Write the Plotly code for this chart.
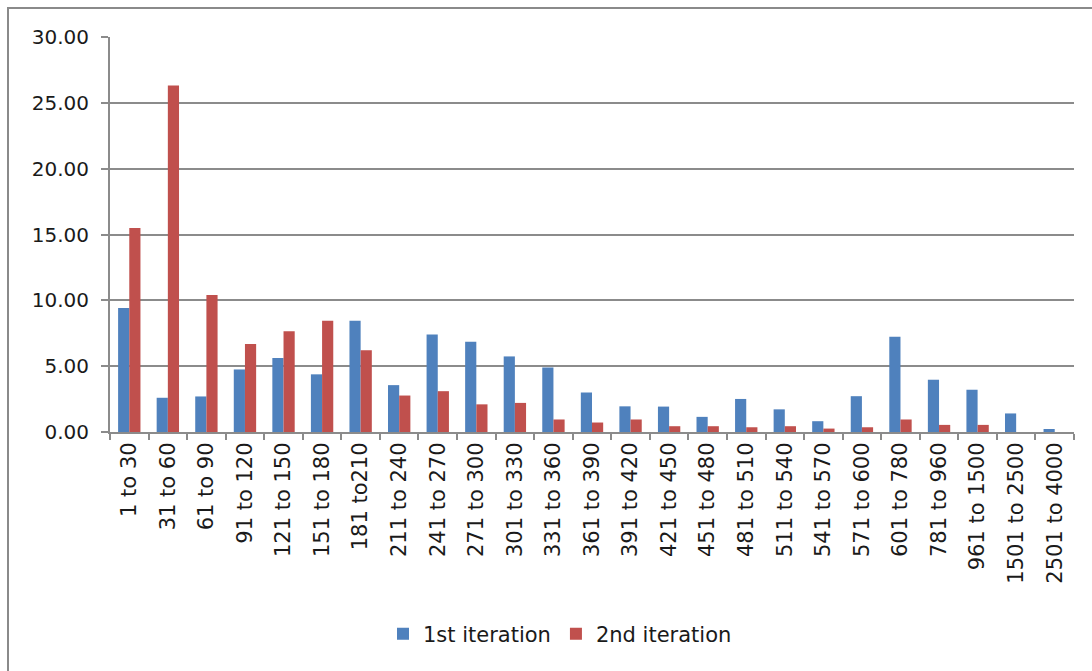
import plotly.graph_objects as go

# Interval bins (seconds) and the share of cases falling in each bin
categories = [
    "1 to 30", "31 to 60", "61 to 90", "91 to 120", "121 to 150", "151 to 180",
    "181 to210", "211 to 240", "241 to 270", "271 to 300", "301 to 330",
    "331 to 360", "361 to 390", "391 to 420", "421 to 450", "451 to 480",
    "481 to 510", "511 to 540", "541 to 570", "571 to 600", "601 to 780",
    "781 to 960", "961 to 1500", "1501 to 2500", "2501 to 4000",
]

first_iteration = [
    9.41, 2.60, 2.70, 4.75, 5.62, 4.38, 8.44, 3.56, 7.40, 6.85, 5.74,
    4.90, 3.00, 1.95, 1.93, 1.15, 2.51, 1.72, 0.82, 2.72, 7.23, 3.97,
    3.21, 1.41, 0.23,
]

second_iteration = [
    15.49, 26.32, 10.40, 6.69, 7.66, 8.44, 6.21, 2.77, 3.10, 2.10, 2.21,
    0.95, 0.72, 0.95, 0.44, 0.44, 0.36, 0.44, 0.26, 0.36, 0.95, 0.54,
    0.54, 0.0, 0.0,
]

series_names = ["1st iteration", "2nd iteration"]
series_colors = ["#4F81BD", "#C0504D"]

FONT = "DejaVu Sans"
TEXT = "#1a1a1a"
GRID = "#8b8b8b"

W, H = 1092, 671
L, R, T, B = 110, 18, 37, 239

fig = go.Figure()
for name, vals, col in zip(series_names, [first_iteration, second_iteration],
                           series_colors):
    fig.add_trace(go.Bar(
        x=categories, y=vals, name=name,
        marker=dict(color=col, line=dict(width=0)),
    ))

pw, ph = W - L - R, H - T - B


def px_x(x):
    return (x - L) / pw


def px_y(y):
    return (H - B - y) / ph


fig.update_layout(
    width=W, height=H,
    margin=dict(l=L, r=R, t=T, b=B, autoexpand=False),
    paper_bgcolor="white", plot_bgcolor="white",
    barmode="group", bargap=0.42, bargroupgap=0.0,
    font=dict(family=FONT, color=TEXT, size=20),
    showlegend=True,
    legend=dict(
        orientation="h", x=px_x(560), y=px_y(634),
        xanchor="center", yanchor="middle",
        font=dict(family=FONT, size=21, color=TEXT),
        bgcolor="rgba(0,0,0,0)", itemclick=False,
    ),
    xaxis=dict(
        type="category", tickangle=-90,
        showline=True, linecolor=GRID, linewidth=2,
        ticks="outside", tickson="boundaries", ticklen=6,
        tickwidth=2, tickcolor=GRID,
        showgrid=False, zeroline=False,
        tickfont=dict(family=FONT, size=21, color=TEXT),
    ),
    yaxis=dict(
        range=[0, 30], dtick=5, tick0=0, tickformat=".2f",
        showline=True, linecolor=GRID, linewidth=2,
        ticks="outside", ticklen=7, tickwidth=2, tickcolor=GRID,
        showgrid=True, gridcolor=GRID, gridwidth=2,
        zeroline=False,
        tickfont=dict(family=FONT, size=20, color=TEXT),
        ticklabelstandoff=8,
    ),
    shapes=[dict(
        type="rect", xref="paper", yref="paper",
        x0=px_x(8), x1=px_x(1110), y0=px_y(700), y1=px_y(8),
        line=dict(color="#8a8a8a", width=2), fillcolor="rgba(0,0,0,0)",
        layer="below",
    )],
)

fig.write_html("out.html")
